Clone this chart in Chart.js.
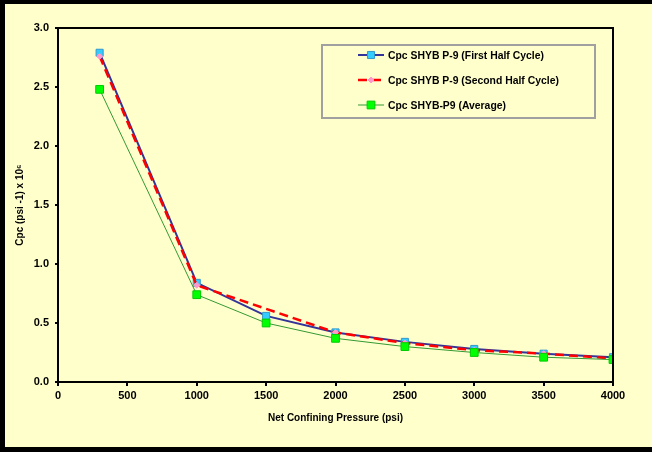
<!DOCTYPE html>
<html>
<head>
<meta charset="utf-8">
<script src="https://cdn.jsdelivr.net/npm/chart.js@4/dist/chart.umd.min.js"></script>
<style>
  html, body { margin: 0; padding: 0; background: #000; width: 652px; height: 452px; overflow: hidden; }
  #frame { position: absolute; left: 5px; top: 4px; width: 647px; height: 443px; background: #ffffcc; }
  canvas { display: block; }
</style>
</head>
<body>
<div id="frame"><canvas id="chart" width="647" height="443"></canvas></div>
<script>
// values
const firstX  = [300, 1000, 1500, 2000, 2500, 3000, 3500, 4000];
const firstY  = [2.79, 0.84, 0.56, 0.42, 0.34, 0.28, 0.24, 0.21];
const secondX = [300, 1000, 2000, 2500, 3000, 3500, 4000];
const secondY = [2.76, 0.82, 0.42, 0.33, 0.27, 0.24, 0.20];
const avgX    = [300, 1000, 1500, 2000, 2500, 3000, 3500, 4000];
const avgY    = [2.48, 0.74, 0.50, 0.37, 0.30, 0.25, 0.21, 0.19];

const labels = [
  "Cpc SHYB P-9 (First Half Cycle)",
  "Cpc SHYB P-9 (Second Half Cycle)",
  "Cpc SHYB-P9 (Average)",
];

const pts = (xs, ys) => xs.map((x, i) => ({ x, y: ys[i] }));
const FONT = "'Liberation Sans', Arial, sans-serif";

const frameBox = {
  id: "frameBox",
  afterDatasetsDraw(chart) {
    const { ctx, chartArea: a } = chart;
    ctx.save();
    ctx.strokeStyle = "#000";
    ctx.lineWidth = 2;
    ctx.beginPath();
    ctx.moveTo(a.left, a.top);
    ctx.lineTo(a.right, a.top);
    ctx.lineTo(a.right, a.bottom);
    ctx.stroke();
    ctx.restore();
  },
};

const boxLegend = {
  id: "boxLegend",
  afterDraw(chart) {
    const { ctx, chartArea: a } = chart;
    const x0 = a.left + 264, y0 = a.top + 17, w = 273, h = 73;
    ctx.save();
    ctx.fillStyle = "#ffffcc";
    ctx.fillRect(x0, y0, w, h);
    ctx.strokeStyle = "#a0a0a0";
    ctx.lineWidth = 2;
    ctx.strokeRect(x0, y0, w, h);
    chart.data.datasets.forEach((ds, i) => {
      const cy = y0 + 10 + i * 25;
      const lx = x0 + 36;
      ctx.strokeStyle = ds.borderColor;
      ctx.lineWidth = ds.borderWidth;
      ctx.setLineDash(ds.borderDash || []);
      ctx.beginPath();
      ctx.moveTo(lx, cy);
      ctx.lineTo(lx + 26, cy);
      ctx.stroke();
      ctx.setLineDash([]);
      const r = ds.pointRadius;
      ctx.fillStyle = ds.pointBackgroundColor;
      ctx.strokeStyle = ds.pointBorderColor;
      ctx.lineWidth = 1;
      ctx.beginPath();
      if (ds.pointStyle === "rectRot") {
        ctx.moveTo(lx + 13, cy - r); ctx.lineTo(lx + 13 + r, cy);
        ctx.lineTo(lx + 13, cy + r); ctx.lineTo(lx + 13 - r, cy);
        ctx.closePath();
      } else {
        const s = r * Math.SQRT1_2;
        ctx.rect(lx + 13 - s, cy - s, s * 2, s * 2);
      }
      ctx.fill();
      ctx.stroke();
      ctx.fillStyle = "#000";
      ctx.font = `bold 10.4px ${FONT}`;
      ctx.textBaseline = "middle";
      ctx.fillText(ds.label, lx + 30, cy + 1);
    });
    ctx.restore();
  },
};

new Chart(document.getElementById("chart"), {
  type: "scatter",
  data: {
    datasets: [
      {
        label: labels[0],
        data: pts(firstX, firstY),
        showLine: true,
        borderColor: "#333399",
        borderWidth: 2,
        pointStyle: "rect",
        pointRadius: 5,
        pointBackgroundColor: "#33ccff",
        pointBorderColor: "#3399cc",
        pointBorderWidth: 1,
        order: 3,
      },
      {
        label: labels[1],
        data: pts(secondX, secondY),
        showLine: true,
        borderColor: "#ff0000",
        borderWidth: 2.5,
        borderDash: [9, 5],
        pointStyle: "rectRot",
        pointRadius: 3,
        pointBackgroundColor: "#ff99cc",
        pointBorderColor: "#ff99cc",
        pointBorderWidth: 1,
        order: 2,
      },
      {
        label: labels[2],
        data: pts(avgX, avgY),
        showLine: true,
        borderColor: "#339933",
        borderWidth: 1,
        pointStyle: "rect",
        pointRadius: 5.5,
        pointBackgroundColor: "#00ff00",
        pointBorderColor: "#00cc00",
        pointBorderWidth: 1,
        order: 1,
      },
    ],
  },
  options: {
    responsive: false,
    animation: false,
    layout: { padding: { top: 24, right: 39, left: 0, bottom: 0 } },
    plugins: { legend: { display: false }, tooltip: { enabled: false } },
    scales: {
      x: {
        type: "linear",
        min: 0,
        max: 4000,
        afterFit: (s) => { s.height = 65; },
        ticks: { stepSize: 500, color: "#000", font: { family: FONT, size: 11, weight: "bold" }, padding: 3, maxRotation: 0, callback: (v) => String(v) },
        grid: { drawOnChartArea: false, drawTicks: true, tickLength: 4, color: "#000", lineWidth: 2 },
        border: { display: true, color: "#000", width: 2 },
        title: { display: true, text: "Net Confining Pressure (psi)", color: "#000", font: { family: FONT, size: 10, weight: "bold" }, padding: { top: 4, bottom: 23 } },
      },
      y: {
        min: 0,
        max: 3,
        afterFit: (s) => { s.width = 53; },
        ticks: { stepSize: 0.5, color: "#000", font: { family: FONT, size: 11, weight: "bold" }, padding: 6, callback: (v) => v.toFixed(1) },
        grid: { drawOnChartArea: false, drawTicks: true, tickLength: 3, color: "#000", lineWidth: 2 },
        border: { display: true, color: "#000", width: 2 },
        title: { display: true, text: "Cpc (psi -1) x 10\u2076", color: "#000", font: { family: FONT, size: 10, weight: "bold" }, padding: { top: 9, bottom: 4 } },
      },
    },
  },
  plugins: [frameBox, boxLegend],
});
</script>
</body>
</html>
